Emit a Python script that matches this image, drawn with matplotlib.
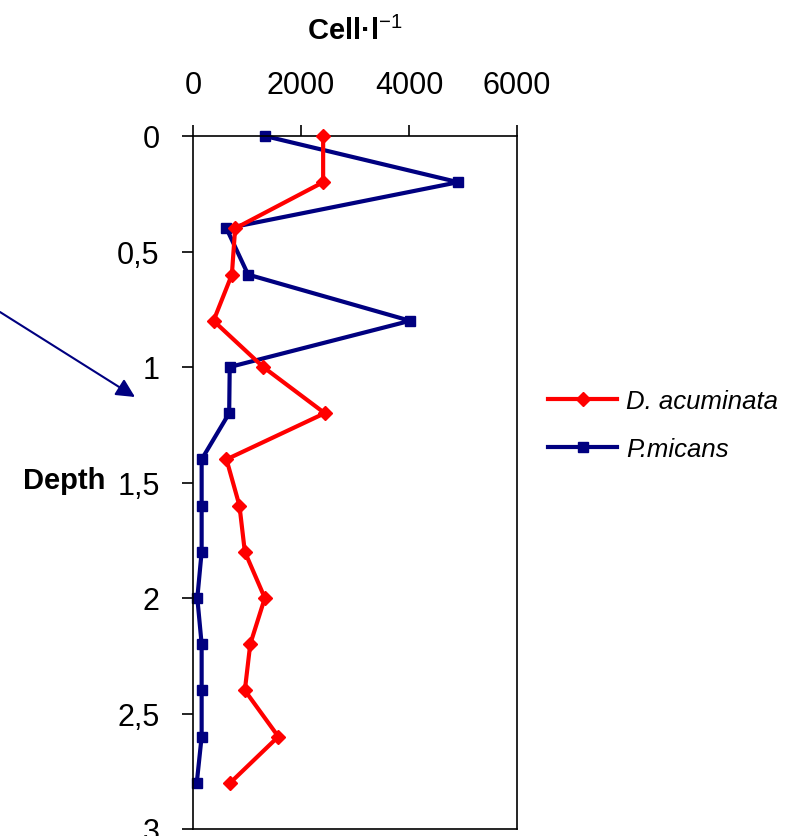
import numpy as np
import matplotlib
matplotlib.use("Agg")
import matplotlib.pyplot as plt

plt.rcParams['font.family'] = ['Liberation Sans', 'DejaVu Sans']
plt.rcParams['mathtext.fontset'] = 'custom'
plt.rcParams['mathtext.rm'] = 'Liberation Sans'
plt.rcParams['mathtext.bf'] = 'Liberation Sans:bold'

# data
depth = [0, 0.2, 0.4, 0.6, 0.8, 1.0, 1.2, 1.4, 1.6, 1.8, 2.0, 2.2, 2.4, 2.6, 2.8]
d_acuminata = [2410, 2410, 780, 720, 380, 1300, 2440, 620, 860, 960, 1330, 1060, 960, 1580, 690]
p_micans = [1330, 4910, 620, 1020, 4020, 680, 670, 160, 160, 160, 80, 160, 160, 160, 70]

x_ticks = [0, 2000, 4000, 6000]
y_ticks = [0, 0.5, 1, 1.5, 2, 2.5, 3]
y_labels = ['0', '0,5', '1', '1,5', '2', '2,5', '3']

W, H = 796, 837
fig = plt.figure(figsize=(W / 100, H / 100), dpi=100)
ax = fig.add_axes([193 / W, 1 - 830 / H, (517 - 193) / W, (830 - 137) / H])

ax.plot(d_acuminata, depth, color='#FF0000', lw=3, marker='D', ms=7.5,
        label='D. acuminata', zorder=3, clip_on=False)
ax.plot(p_micans, depth, color='#000080', lw=3, marker='s', ms=7.5,
        label='P.micans', zorder=2, clip_on=False)

ax.set_xlim(0, 6000)
ax.set_ylim(3, 0)
ax.xaxis.tick_top()
ax.set_xticks(x_ticks)
ax.set_yticks(y_ticks, y_labels)
ax.tick_params(axis='x', direction='out', length=8, width=1.2, pad=18, labelsize=22)
ax.tick_params(axis='y', direction='out', length=8, width=1.2, pad=16, labelsize=22)
for s in ax.spines.values():
    s.set_linewidth(1.2)

fig.text(355 / W, 1 - 40 / H, r'Cell·l$^{-1}$', ha='center', va='baseline',
         fontsize=21, fontweight='bold')
fig.text(23 / W, 1 - 489 / H, 'Depth', ha='left', va='baseline',
         fontsize=21, fontweight='bold')

leg = fig.legend(loc='center left', bbox_to_anchor=(548 / W, 1 - 426 / H),
                 frameon=False, borderpad=0, borderaxespad=0,
                 handlelength=2.7, handletextpad=0.35, labelspacing=0.95,
                 prop={'style': 'italic', 'size': 18.5})

ax.annotate('', xy=(135, H - 398), xycoords='figure pixels',
            xytext=(0, H - 313), textcoords='figure pixels',
            arrowprops=dict(arrowstyle='-|>', color='#000080', lw=1.5,
                            mutation_scale=28, shrinkA=0, shrinkB=0))

fig.savefig('out.png', dpi=100)
